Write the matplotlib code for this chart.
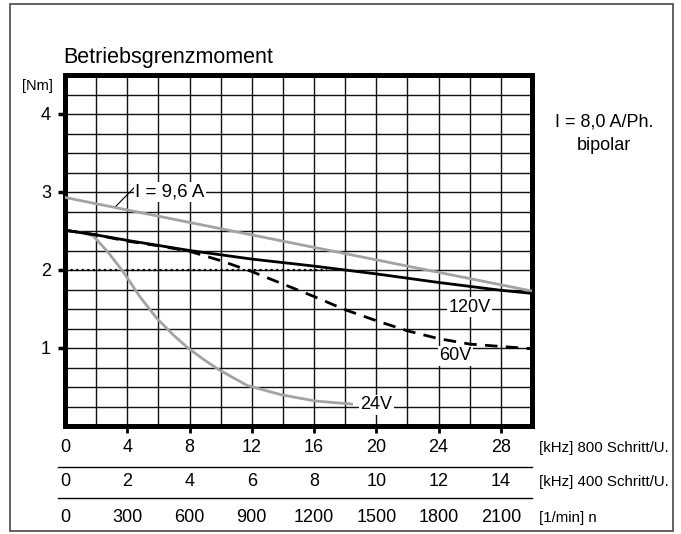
import matplotlib
matplotlib.use("Agg")
import matplotlib.pyplot as plt
from matplotlib.transforms import blended_transform_factory
from matplotlib.patches import Rectangle

plt.rcParams['font.family'] = ['Liberation Sans', 'DejaVu Sans']

# Data (x in kHz at 800 Schritt/U., y in Nm)
x_96A = [0, 30]
y_96A = [2.93, 1.73]

x_120V = [0, 2, 4, 8, 12, 16, 20, 24, 28, 30]
y_120V = [2.51, 2.45, 2.38, 2.25, 2.14, 2.05, 1.95, 1.84, 1.74, 1.70]

x_60V = [0, 2, 4, 6, 8, 10, 12, 14, 16, 18, 20, 22, 24, 26, 28, 30]
y_60V = [2.51, 2.45, 2.37, 2.31, 2.24, 2.12, 1.98, 1.82, 1.66, 1.49, 1.35, 1.22, 1.12, 1.05, 1.02, 0.99]

x_24V = [0, 1, 1.8, 2.8, 3.8, 4.8, 5.9, 7, 7.9, 9, 9.9, 11.7, 13.9, 16.1, 18.5]
y_24V = [2.51, 2.48, 2.44, 2.22, 1.96, 1.66, 1.38, 1.16, 1.00, 0.84, 0.72, 0.52, 0.40, 0.32, 0.28]

x_dotted = [0, 16.8]
y_dotted = [2.0, 2.0]

row1_ticks = [0, 4, 8, 12, 16, 20, 24, 28]
row1_labels = ['0', '4', '8', '12', '16', '20', '24', '28']
row2_labels = ['0', '2', '4', '6', '8', '10', '12', '14']
row3_labels = ['0', '300', '600', '900', '1200', '1500', '1800', '2100']
row_units = ['[kHz] 800 Schritt/U.', '[kHz] 400 Schritt/U.', '[1/min] n']
y_ticks = [1, 2, 3, 4]

W, H = 681, 534
fig = plt.figure(figsize=(W / 100, H / 100), dpi=100)

# outer frame
fig.patches.append(Rectangle((10 / W, 3 / H), 663 / W, 527 / H, transform=fig.transFigure,
                             fill=False, edgecolor='#555555', linewidth=1.3))

ax = fig.add_axes([65 / W, (H - 426) / H, (532 - 65) / W, (426 - 75) / H])
ax.set_xlim(0, 30)
ax.set_ylim(0, 4.5)

for s in ax.spines.values():
    s.set_linewidth(3.6)
    s.set_color('black')

# grid
for gx in range(2, 30, 2):
    ax.axvline(gx, color='#111111', lw=1.0, zorder=1)
for i in range(1, 18):
    ax.axhline(i * 0.25, color='#111111', lw=1.0, zorder=1)

ax.set_xticks(row1_ticks[1:])
ax.set_xticklabels([])
ax.set_yticks(y_ticks)
ax.set_yticklabels([str(v) for v in y_ticks], fontsize=13)
ax.tick_params(axis='y', direction='out', length=5, width=2.5, pad=5)
ax.tick_params(axis='x', direction='out', length=5, width=2)

# curves
ax.plot(x_96A, y_96A, color='#a3a3a3', lw=2.0, zorder=3)
ax.plot(x_dotted, y_dotted, color='black', lw=1.6, linestyle=(0, (1, 1.5)), zorder=3)
ax.plot(x_24V, y_24V, color='#a3a3a3', lw=2.0, zorder=3, solid_capstyle='butt')
ax.plot(x_60V, y_60V, color='black', lw=2.0, linestyle=(0, (4.5, 3)), zorder=4)
ax.plot(x_120V, y_120V, color='black', lw=2.0, zorder=5)

# labels
bb = dict(facecolor='white', edgecolor='none', pad=1.0)
ax.plot([3.28, 4.62], [2.82, 3.09], color='black', lw=0.8, zorder=6)
ax.text(6.75, 3.0, 'I = 9,6 A', fontsize=13.5, ha='center', va='center', bbox=bb, zorder=6)
ax.text(26.0, 1.52, '120V', fontsize=13, ha='center', va='center', bbox=bb, zorder=6)
ax.text(25.1, 0.90, '60V', fontsize=13, ha='center', va='center', bbox=bb, zorder=6)
ax.text(20.0, 0.27, '24V', fontsize=13, ha='center', va='center', bbox=bb, zorder=6)

# title and unit
fig.text(63 / W, 1 - 58 / H, 'Betriebsgrenzmoment', fontsize=15.5, ha='left', va='center')
fig.text(37 / W, 1 - 86 / H, '[Nm]', fontsize=10.5, ha='center', va='center')
fig.text(604 / W, 1 - 122 / H, 'I = 8,0 A/Ph.', fontsize=13, ha='center', va='center')
fig.text(604 / W, 1 - 145 / H, 'bipolar', fontsize=13, ha='center', va='center')

# bottom rows
tr = blended_transform_factory(ax.transData, fig.transFigure)
row_y = [447, 481, 517]
for labels, ry, unit in zip([row1_labels, row2_labels, row3_labels], row_y, row_units):
    for xv, lab in zip(row1_ticks, labels):
        ax.text(xv, 1 - ry / H, lab, transform=tr, fontsize=13, ha='center', va='center', clip_on=False)
    fig.text(539 / W, 1 - (ry + 1) / H, unit, fontsize=10.8, ha='left', va='center')

for ly in [467, 498]:
    fig.add_artist(plt.Line2D([58 / W, 532 / W], [1 - ly / H, 1 - ly / H], transform=fig.transFigure,
                              color='black', lw=1.0))

fig.savefig('out.png', dpi=100)
